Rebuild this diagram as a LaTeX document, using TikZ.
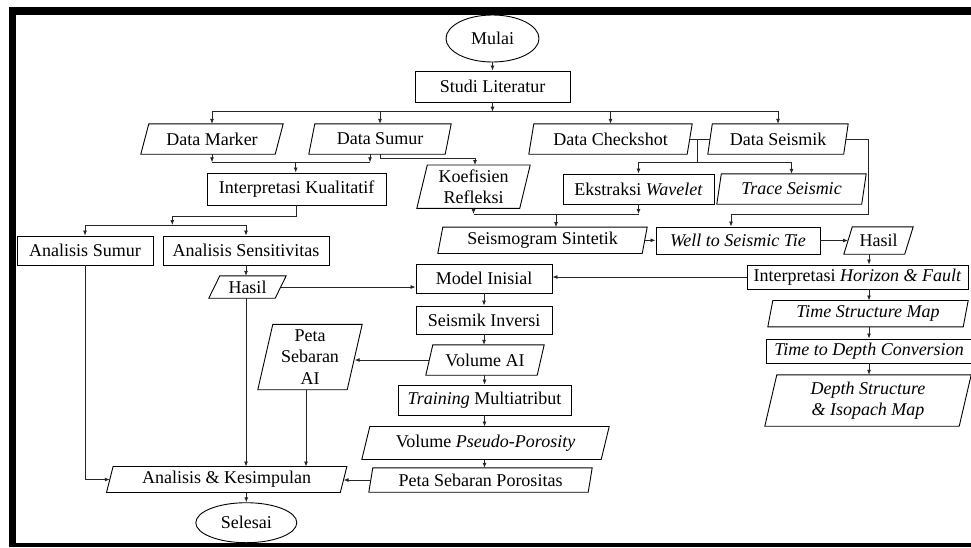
\documentclass[tikz,border=0pt]{standalone}
\usepackage{fontspec}
\setmainfont{Liberation Serif}
\usetikzlibrary{shapes.geometric,arrows.meta,calc}
\begin{document}
\begin{tikzpicture}[x=1pt,y=-1pt,
  every node/.style={font=\fontsize{18}{21.5}\selectfont, inner sep=1pt, align=center},
  sz/.style 2 args={minimum width=#1, minimum height=#2},
  box/.style={rectangle, draw, line width=0.9pt},
  term/.style={ellipse, draw, line width=0.9pt},
  para/.style={rectangle},
  ln/.style={line width=0.8pt, draw=black!85},
  arr/.style={ln, -{Latex[length=5pt,width=4pt]}},
]
\useasboundingbox (0,0) rectangle (971,547);
% frame
\fill (9,7) rectangle (971,15);
\fill (9,7) rectangle (16,547);
\fill (9,543) rectangle (971,547);

% nodes
\node[term, sz={93}{47}] (mulai) at (492.5,38.5) {Mulai};
\node[box, sz={155}{31}] (studi) at (492.5,86.5) {Studi Literatur};
\node[para, sz={134}{30}] (dm) at (212,139) {Data Marker};
\node[para, sz={136}{30}] (ds) at (380,139) {Data Sumur};
\node[para, sz={158}{30}] (dc) at (610.5,139) {Data Checkshot};
\node[para, sz={135.5}{30}] (dsm) at (778,139) {Data Seismik};
\node[box, sz={179}{32}] (ik) at (296.5,189) {Interpretasi Kualitatif};
\node[para, sz={102.5}{43}] (kr) at (473.5,186.7) {Koefisien\\Refleksi};
\node[box, sz={151}{30}] (ew) at (638.5,189) {Ekstraksi \textit{Wavelet}};
\node[para, sz={144.5}{30}] (ts) at (791.5,189) {\textit{Trace Seismic}};
\node[box, sz={136}{29}] (asu) at (85,250.5) {Analisis Sumur};
\node[box, sz={166}{29}] (asn) at (246,250.5) {Analisis Sensitivitas};
\node[para, sz={204}{26}] (sg) at (542.5,240.3) {Seismogram Sintetik};
\node[box, sz={164}{27}] (wst) at (738,240.5) {\textit{Well to Seismic Tie}};
\node[para, sz={60.5}{27}] (h2) at (878.5,240.5) {Hasil};
\node[para, sz={66}{22}] (h1) at (247.5,287) {Hasil};
\node[box, sz={136}{29}] (mi) at (484,278.5) {Model Inisial};
\node[box, sz={221}{24}] (ihf) at (857.5,277) {Interpretasi \textit{Horizon \& Fault}};
\node[box, sz={136}{28}] (si) at (484,320) {Seismik Inversi};
\node[para, sz={195}{26}] (tsm) at (868,313.7) {\textit{Time Structure Map}};
\node[box, sz={206}{24}] (tdc) at (869,351) {\textit{Time to Depth Conversion}};
\node[para, sz={89}{65}] (pai) at (310,357) {Peta\\Sebaran\\AI};
\node[para, sz={111}{30}] (vai) at (485,360) {Volume AI};
\node[para, sz={194}{51}] (dsi) at (868,400.5) {\textit{Depth Structure}\\\textit{\& Isopach Map}};
\node[box, sz={173}{30}] (tm) at (484.5,400) {\textit{Training} Multiatribut};
\node[para, sz={239}{32.6}] (vpp) at (485.5,443) {Volume \textit{Pseudo-Porosity}};
\node[para, sz={219}{24}] (psp) at (480.5,480) {Peta Sebaran Porositas};
\node[para, sz={233.4}{25.6}] (ak) at (226.7,479.5) {Analisis \& Kesimpulan};
\node[term, sz={101}{40}] (sel) at (246.3,522.7) {Selesai};

% parallelogram outlines
\foreach \n/\s in {dm/4, ds/3, dc/2.5, dsm/2.25, kr/5.25, ts/2.25, sg/2.5, h2/4.25,
                   h1/5.5, pai/7.5, vai/3.5, vpp/4, psp/2, ak/3.3, tsm/2.5, dsi/6}
  \draw[line width=0.9pt] ([xshift=\s pt]\n.north west) -- ([xshift=\s pt]\n.north east)
     -- ([xshift=-\s pt]\n.south east) -- ([xshift=-\s pt]\n.south west) -- cycle;

% helper coordinates
\coordinate (b1) at (492.5,111.7);
\coordinate (b2) at (295.7,162.3);
\coordinate (b3) at (475,158.3);
\coordinate (b4) at (697,162.7);
\coordinate (b5) at (556,214);
\coordinate (b6) at (868,214);
\coordinate (b7) at (731,214);
\coordinate (b8) at (172.3,225);
\coordinate (b9) at (172.3,216);
\coordinate (rc) at (869,300);

% connectors
\draw[arr] (mulai) -- (studi);
\draw[arr] (studi) -- (b1);
\draw[arr] (b1) -| (dm);
\draw[arr] (b1) -| (ds);
\draw[arr] (b1) -| (dc);
\draw[arr] (b1) -| (dsm);

\draw[arr] (dm.south) -- (dm.south |- b2);
\draw[arr] ([xshift=-10pt]ds.south) -- ([xshift=-10pt]ds.south |- b2);
\draw[ln] (dm.south |- b2) -- ([xshift=-10pt]ds.south |- b2);
\draw[arr] (b2) -- (b2 |- ik.north);

\draw[arr] (ds.south) |- (b3) -- (b3 |- kr.north);

\draw[ln] (dc.east) -- (dsm.west);
\draw[ln] (b4 |- dc.east) -- (b4);
\draw[arr] (b4) -| (ew);
\draw[arr] (b4) -| (ts);

\draw[arr] (dsm.east) -| (b6) -- (b7) -- (b7 |- wst.north);

\draw[arr] (kr.south) -- (kr.south |- b5);
\draw[arr] (ew.south) -- (ew.south |- b5);
\draw[ln] (kr.south |- b5) -- (ew.south |- b5);
\draw[arr] (b5) -- (b5 |- sg.north);

\draw[arr] (sg.east) -- (sg.east -| wst.west);
\draw[arr] (wst.east) -- (wst.east -| h2.west);
\draw[arr] (rc |- h2.south) -- (rc |- ihf.north);
\draw[arr] (rc |- ihf.south) -- (rc |- tsm.north);
\draw[arr] (rc |- tsm.south) -- (rc |- tdc.north);
\draw[arr] (rc |- tdc.south) -- (rc |- dsi.north);

\draw[arr] (ihf.west) -- (ihf.west -| mi.east);

\draw[arr] (ik.south) |- (b9) -- (b8);
\draw[arr] (b8) -| (asu);
\draw[arr] (b8) -| (asn);

\draw[arr] (asn.south) -- (asn.south |- h1.north);
\draw[arr] (h1.east) -- (h1.east -| mi.west);
\draw[arr] (asn.south |- h1.south) -- (asn.south |- ak.north);
\draw[arr] (asu.south) |- (ak.west);
\draw[arr] ([xshift=-4pt]pai.south) -- ([xshift=-4pt]pai.south |- ak.north);

\draw[arr] (mi) -- (si);
\draw[arr] (si.south) -- (si.south |- vai.north);
\draw[arr] (vai.west) -- (vai.west -| pai.east);
\draw[arr] (tm.north |- vai.south) -- (tm.north);
\draw[arr] (tm.south) -- (tm.south |- vpp.north);
\draw[arr] (tm.south |- vpp.south) -- (tm.south |- psp.north);
\draw[arr] (psp.west) -- (psp.west -| ak.east);
\draw[arr] (sel.north |- ak.south) -- (sel.north);
\end{tikzpicture}
\end{document}
